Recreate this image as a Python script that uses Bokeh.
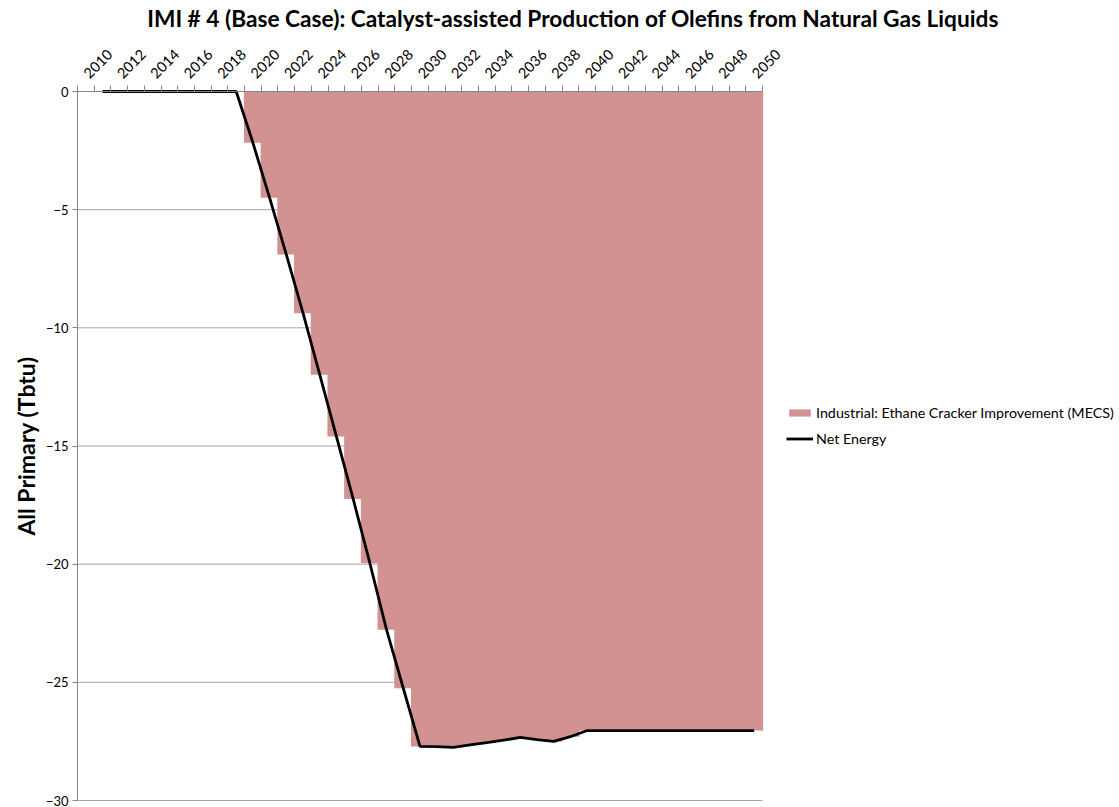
import math
from bokeh.plotting import figure
from bokeh.models import Range1d, FixedTicker, Legend, LegendItem, ColumnDataSource, Label
from bokeh.embed import file_html
from bokeh.resources import INLINE

# ---- data ----
years = list(range(2010, 2051))
ethane_cracker = [0, 0, 0, 0, 0, 0, 0, 0, 0, 0,
                  -2.17, -4.50, -6.90, -9.38, -11.98, -14.60, -17.24, -19.96, -22.78, -25.25,
                  -27.71, -27.72, -27.75, -27.65, -27.55, -27.45, -27.33, -27.42, -27.50, -27.30,
                  -27.04, -27.04, -27.04, -27.04, -27.04, -27.04, -27.04, -27.04, -27.04, -27.04, -27.04]
net_energy = [float("nan"), 0, 0, 0, 0, 0, 0, 0, 0, 0,
              -2.17, -4.50, -6.90, -9.38, -11.98, -14.60, -17.24, -19.96, -22.78, -25.25,
              -27.71, -27.72, -27.75, -27.65, -27.55, -27.45, -27.33, -27.42, -27.50, -27.30,
              -27.04, -27.04, -27.04, -27.04, -27.04, -27.04, -27.04, -27.04, -27.04, -27.04, -27.04]
x_tick_labels = [str(y) for y in range(2010, 2051, 2)]
y_ticks = [0, -5, -10, -15, -20, -25, -30]

title_text = "IMI # 4 (Base Case): Catalyst-assisted Production of Olefins from Natural Gas Liquids"
y_axis_title = "All Primary (Tbtu)"
series_names = ["Industrial: Ethane Cracker Improvement (MECS)", "Net Energy"]

src = ColumnDataSource(dict(year=years, ethane=ethane_cracker, net=net_energy))

FONT = "Lato"
BAR = "#D29292"
GRID = "#a6a6a6"
AXIS = "#868686"
W, H = 1119, 807
PLOT_LEFT, PLOT_W, PLOT_TOP, PLOT_BOTTOM = 77, 685, 91, 800   # category area, page px
y_min, y_max = -30, 0
x0 = years[0] - 0.5
x1 = years[-1] + 0.5
# the frame covers the whole canvas; ranges are widened so that the
# category area lands where the reference has it
x_start = x0 - (x1 - x0) * PLOT_LEFT / PLOT_W
x_end = x0 + (x1 - x0) * (W - PLOT_LEFT) / PLOT_W
y_span_px = PLOT_BOTTOM - PLOT_TOP
y_top = y_max + (y_max - y_min) * PLOT_TOP / y_span_px
y_bottom = y_min - (y_max - y_min) * (H - PLOT_BOTTOM) / y_span_px

p = figure(width=W, height=H,
           x_range=Range1d(x_start, x_end),
           y_range=Range1d(y_bottom, y_top),
           x_axis_location="above",
           output_backend="svg", toolbar_location=None,
           min_border_left=0, min_border_right=0,
           min_border_top=0, min_border_bottom=0)
p.title.text = ""

# gridlines limited to the category area
p.segment(x0=[x0] * len(y_ticks), y0=y_ticks, x1=[x1] * len(y_ticks), y1=y_ticks,
          line_color=GRID, line_width=1, level="underlay")

bars = p.vbar(x="year", top=0, bottom="ethane", width=1.08, source=src,
              fill_color=BAR, line_color=None)
line = p.line(x="year", y="net", source=src, line_color="black", line_width=2.8)

# chart title and y-axis title as labels inside the (widened) frame
frame_h = H
p.add_layout(Label(x=572.5, y=frame_h - 18, x_units="screen", y_units="screen",
                   text=title_text, text_font=FONT, text_font_size="22.7px",
                   text_font_style="bold", text_color="black",
                   text_align="center", text_baseline="middle"))
p.add_layout(Label(x=25, y=frame_h - (PLOT_TOP + PLOT_BOTTOM) / 2,
                   x_units="screen", y_units="screen", angle=math.pi / 2,
                   text=y_axis_title, text_font=FONT, text_font_size="23px",
                   text_font_style="bold", text_color="black",
                   text_align="center", text_baseline="middle"))

# x axis (top), pinned to y = 0
xa = p.xaxis[0]
xa.fixed_location = 0
xa.bounds = (x0, x1)
xa.ticker = FixedTicker(ticks=[int(t) for t in x_tick_labels],
                        minor_ticks=[y - 0.5 for y in years] + [x1])
xa.major_tick_out = 0
xa.major_tick_in = 0
xa.minor_tick_out = 6
xa.minor_tick_in = 0
xa.axis_line_color = AXIS
xa.minor_tick_line_color = AXIS
xa.major_label_orientation = math.pi / 4
xa.major_label_text_font = FONT
xa.major_label_text_font_size = "14.5px"
xa.major_label_text_color = "black"
xa.major_label_standoff = 10

# y axis, pinned to the left edge of the category area
ya = p.yaxis[0]
ya.fixed_location = x0
ya.bounds = (y_min, y_max)
ya.ticker = FixedTicker(ticks=y_ticks)
ya.major_tick_out = 5
ya.major_tick_in = 0
ya.minor_tick_line_color = None
ya.axis_line_color = AXIS
ya.major_tick_line_color = AXIS
ya.major_label_text_font = FONT
ya.major_label_text_font_size = "13px"
ya.major_label_text_color = "black"
ya.major_label_standoff = 4

p.xgrid.visible = False
p.ygrid.visible = False
p.outline_line_color = None

legend = Legend(items=[LegendItem(label=series_names[0], renderers=[bars]),
                       LegendItem(label=series_names[1], renderers=[line])],
                location=(786, 359))
legend.glyph_width = 27
legend.glyph_height = 9
legend.label_height = 20
legend.label_standoff = 3
legend.spacing = 6
legend.padding = 0
legend.margin = 0
legend.border_line_color = None
legend.background_fill_alpha = 0
legend.label_text_font = FONT
legend.label_text_font_size = "14.3px"
legend.label_text_color = "black"
p.add_layout(legend, "center")

open("out.html", "w").write(file_html(p, INLINE))
